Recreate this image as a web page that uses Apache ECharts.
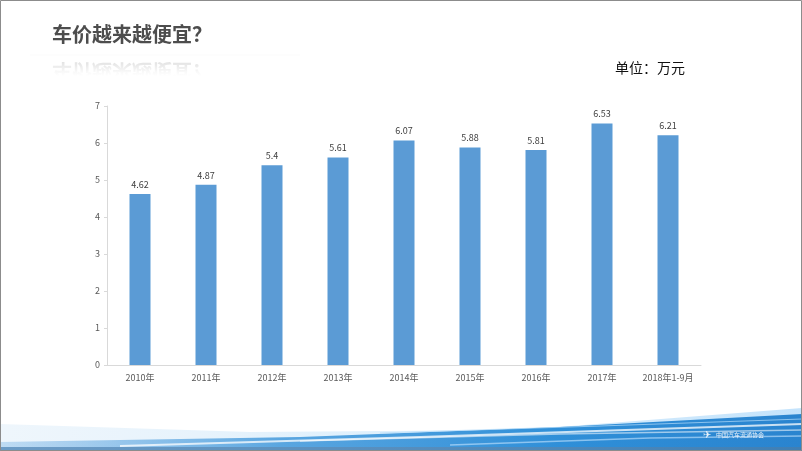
<!DOCTYPE html>
<html><head><meta charset="utf-8">
<script src="https://cdn.jsdelivr.net/npm/echarts@6/dist/echarts.min.js"></script>
<style>html,body{margin:0;padding:0;background:#fff}#c{width:802px;height:451px}</style>
</head><body><div id="c"></div>
<script>
var categories = ['2010年','2011年','2012年','2013年','2014年','2015年','2016年','2017年','2018年1-9月'];
var values = [4.62, 4.87, 5.4, 5.61, 6.07, 5.88, 5.81, 6.53, 6.21];
var yTicks = [0, 1, 2, 3, 4, 5, 6, 7];
var titleText = '车价越来越便宜？';
var unitText = '单位：万元';
var logoText = '中国汽车流通协会';

var chart = echarts.init(document.getElementById('c'), null, {renderer:'canvas'});
var cjk = '"Noto Sans CJK SC", "Noto Sans", sans-serif';
var option = {
  backgroundColor: '#fff',
  animation: false,
  grid: {left: 107, right: 101, top: 106, bottom: 86},
  xAxis: {
    type: 'category', data: categories,
    axisLine: {lineStyle: {color: '#d9d9d9', width: 1}},
    axisTick: {show: false},
    axisLabel: {color: '#595959', fontSize: 9, fontFamily: cjk, margin: 8, interval: 0}
  },
  yAxis: {
    type: 'value', min: yTicks[0], max: yTicks[yTicks.length-1], interval: 1,
    axisLine: {show: true, lineStyle: {color: '#d9d9d9', width: 1}},
    axisTick: {show: true, length: 3, lineStyle: {color: '#d9d9d9'}},
    splitLine: {show: false},
    axisLabel: {color: '#595959', fontSize: 9, fontFamily: cjk, margin: 7}
  },
  series: [{
    type: 'bar', data: values, barWidth: 21,
    itemStyle: {color: '#5b9bd5'},
    label: {show: true, position: 'top', distance: 5, color: '#404040', fontSize: 9, fontFamily: cjk}
  }],
  graphic: [
    {type: 'rect', shape: {x: 0.5, y: 0.5, width: 801, height: 450}, style: {fill: 'none', stroke: '#8c8c8c', lineWidth: 1}, z: 100},
    {type: 'line', shape: {x1: 30, y1: 55, x2: 300, y2: 55}, style: {stroke: 'rgba(0,0,0,0.02)', lineWidth: 1}},
    {type: 'text', left: 52, top: 24, style: {text: titleText, fill: '#4d4d4d', font: 'bold 20px ' + cjk}},
    {type: 'text', x: 52, y: 82, scaleY: -1, style: {text: titleText, font: 'bold 20px ' + cjk, fill: 'rgba(120,120,120,0.35)'}},
    {type: 'rect', shape: {x: 40, y: 58, width: 200, height: 30},
      style: {fill: new echarts.graphic.LinearGradient(0, 0, 0, 1, [{offset: 0, color: 'rgba(255,255,255,0.2)'}, {offset: 0.45, color: 'rgba(255,255,255,0.85)'}, {offset: 0.6, color: 'rgba(255,255,255,1)'}, {offset: 1, color: 'rgba(255,255,255,1)'}])}},
    {type: 'text', left: 615, top: 61, style: {text: unitText, fill: '#111', font: '14px ' + cjk}},
    // bottom wave decoration
    {type: 'polygon', shape: {points: [[0,451],[0,424],[250,432],[520,430],[802,408],[802,451]]},
      style: {fill: new echarts.graphic.LinearGradient(0, 0, 1, 0, [{offset: 0, color: 'rgba(200,225,245,0.3)'}, {offset: 0.5, color: 'rgba(190,225,250,0.5)'}, {offset: 1, color: 'rgba(170,215,250,0.7)'}])}},
    {type: 'polygon', shape: {points: [[0,451],[0,442],[300,437],[560,427],[802,414],[802,451]]},
      style: {fill: new echarts.graphic.LinearGradient(0, 0, 1, 0, [{offset: 0, color: 'rgba(120,180,230,0.4)'}, {offset: 0.35, color: '#5aa6e0'}, {offset: 0.7, color: '#2f8fd8'}, {offset: 1, color: '#2a84cf'}])}},
    {type: 'polyline', shape: {points: [[120,446],[420,437],[802,424]]}, style: {stroke: 'rgba(255,255,255,0.75)', lineWidth: 2, fill: 'none'}},
    {type: 'polyline', shape: {points: [[300,441],[560,434],[802,430]]}, style: {stroke: 'rgba(255,255,255,0.55)', lineWidth: 1.5, fill: 'none'}},
    {type: 'polyline', shape: {points: [[450,445],[650,438],[802,436]]}, style: {stroke: 'rgba(200,230,255,0.6)', lineWidth: 1.5, fill: 'none'}},
    {type: 'polyline', shape: {points: [[380,433],[600,426],[802,419]]}, style: {stroke: 'rgba(180,220,250,0.7)', lineWidth: 1, fill: 'none'}},
    {type: 'rect', shape: {x: 0, y: 447, width: 802, height: 4},
      style: {fill: new echarts.graphic.LinearGradient(0, 0, 1, 0, [{offset: 0, color: '#6d9cc6'}, {offset: 1, color: '#3f7fb5'}])}},
    {type: 'text', left: 716, top: 432, style: {text: logoText, fill: 'rgba(255,255,255,0.9)', font: '6px ' + cjk}},
    {type: 'text', left: 703, top: 429, style: {text: '✈', fill: 'rgba(255,255,255,0.9)', font: '10px ' + cjk}}
  ]
};
chart.setOption(option);
</script></body></html>
